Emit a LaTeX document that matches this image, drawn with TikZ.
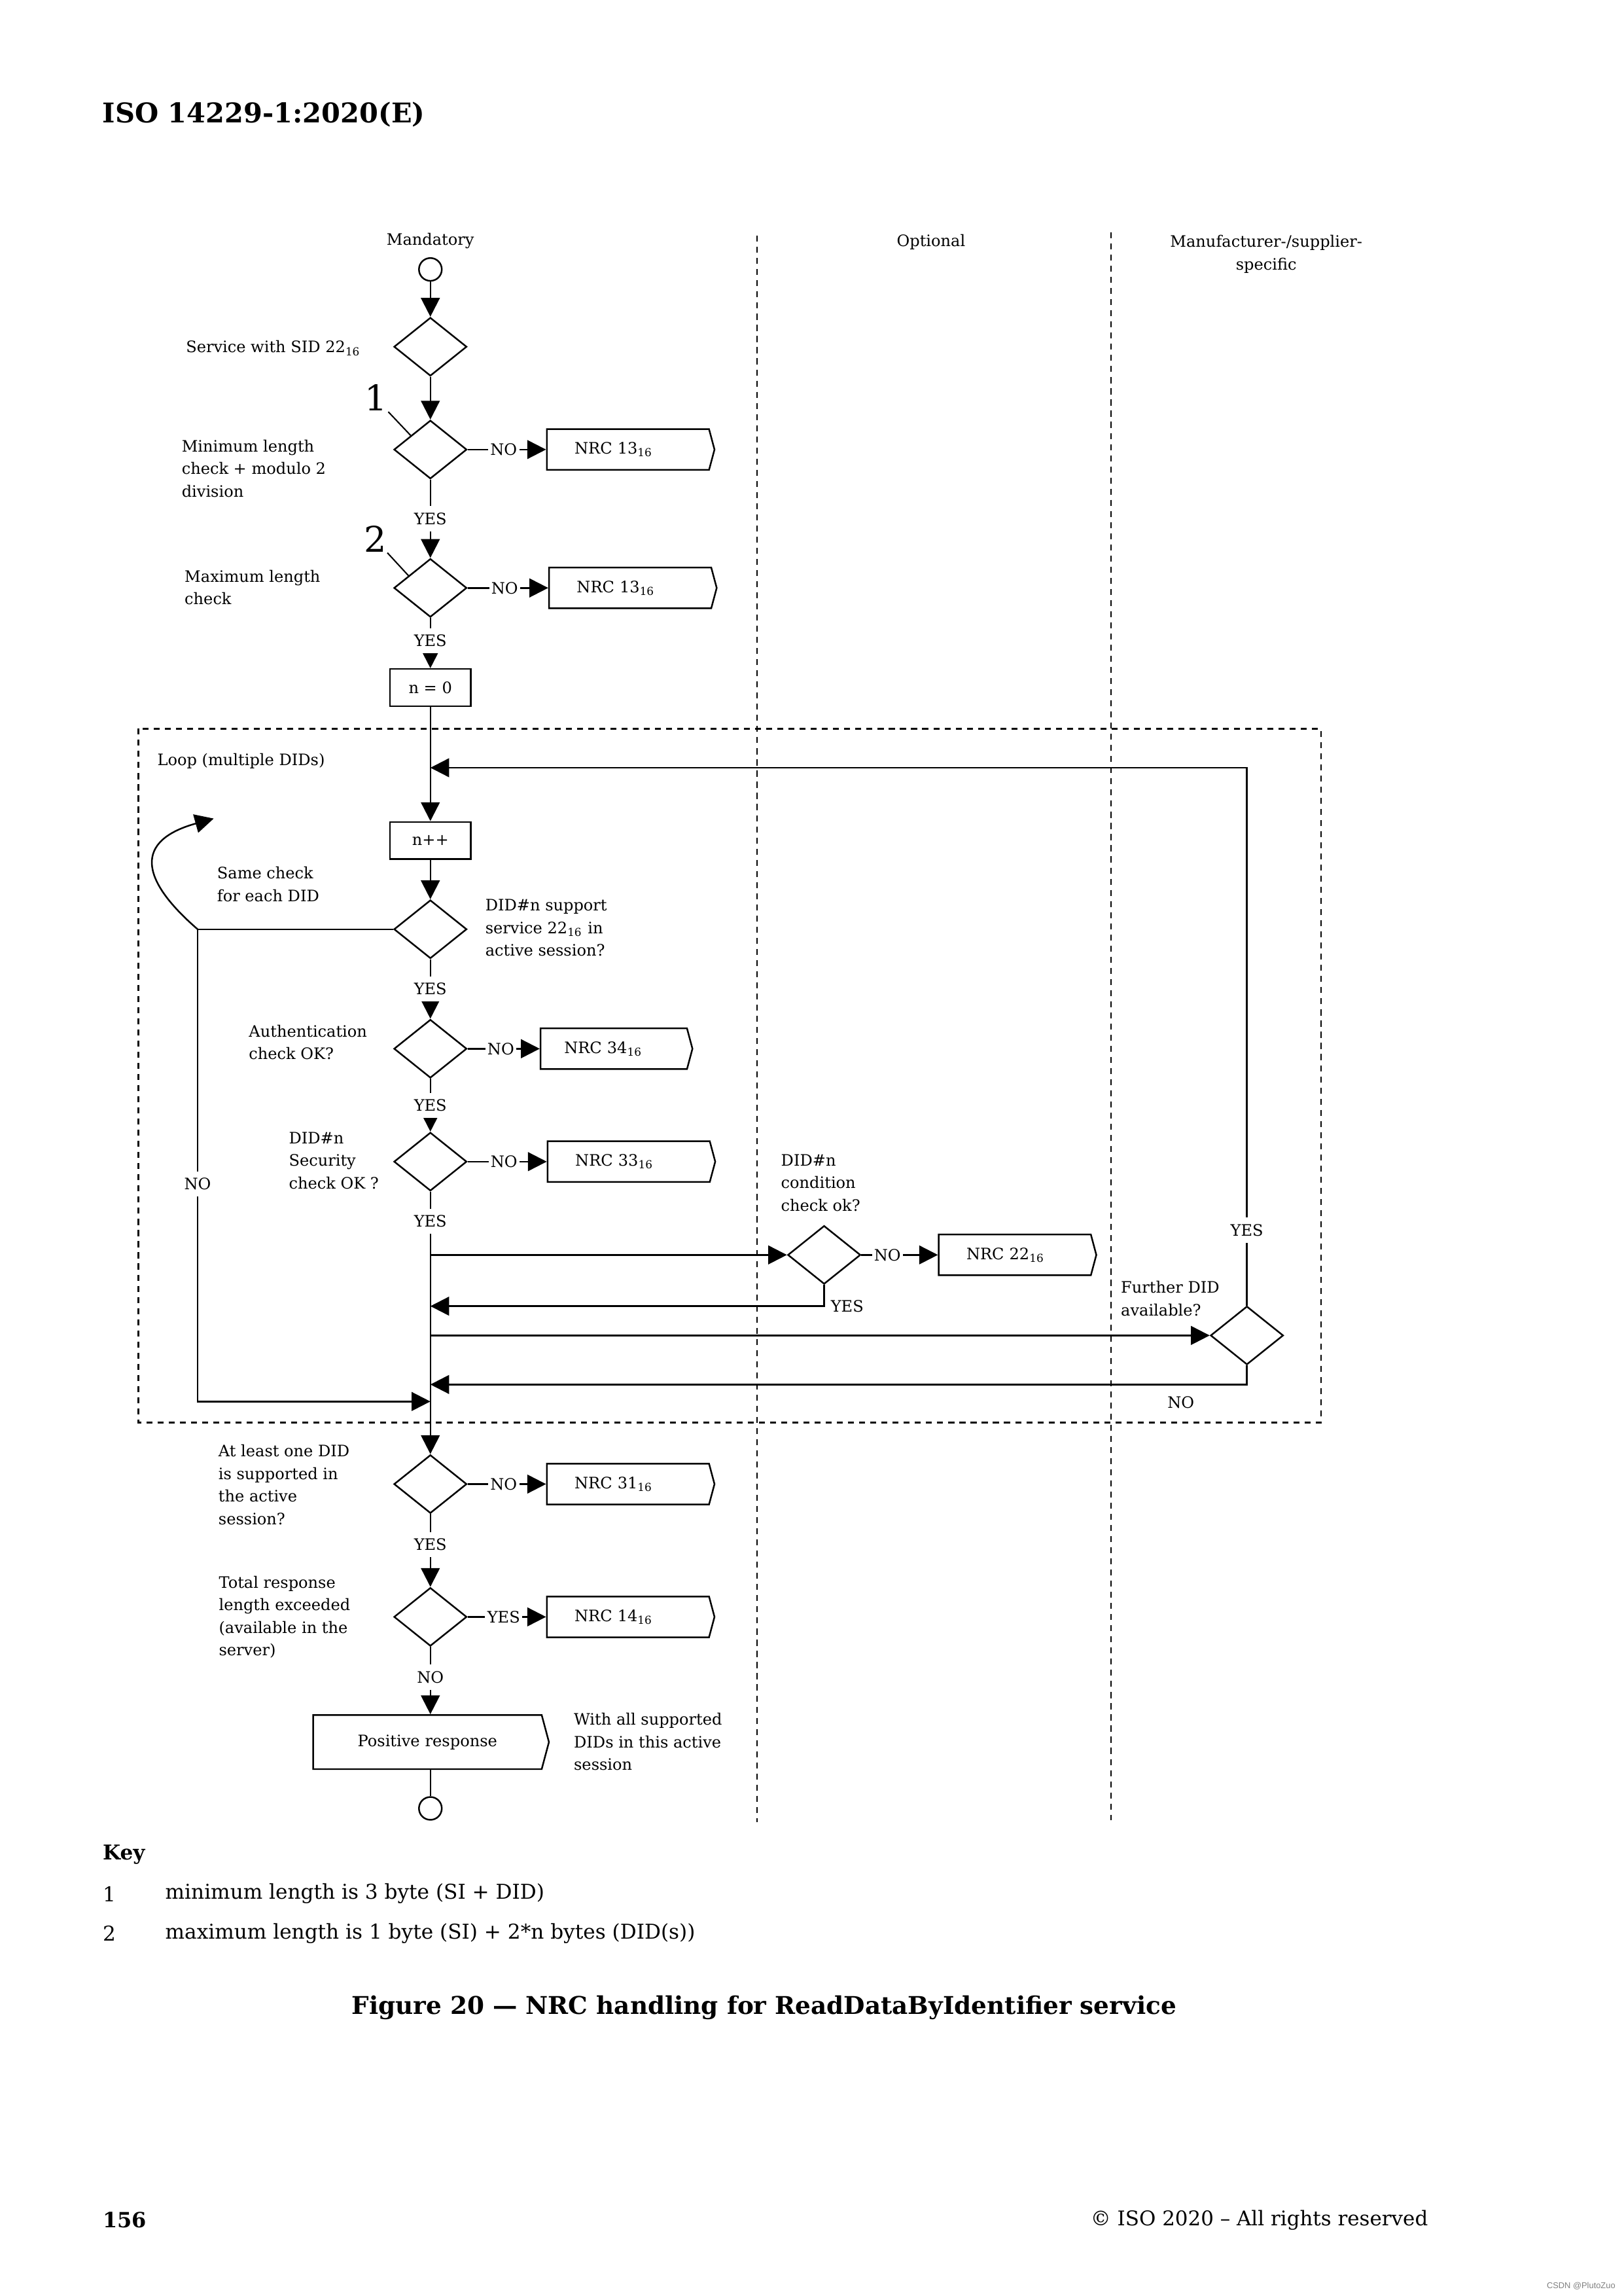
\documentclass[tikz,border=0pt]{standalone}
\usepackage{fontspec}
\setmainfont{DejaVu Serif}
\newfontfamily\wmfont{Liberation Sans}
\usetikzlibrary{arrows.meta,shapes.geometric,shapes.symbols,calc}

\newcommand{\fs}{\fontsize{5.8}{8.3}\selectfont}
\newcommand{\hx}[1]{#1\textsubscript{16}}

\begin{document}
\begin{tikzpicture}[x=0.18936mm,y=-0.18936mm,line width=0.6pt,
  arr/.style={-{Triangle[length=6.9pt,width=6.9pt]}},
  txt/.style={font=\fs,inner sep=0pt,align=left},
  lbl/.style={font=\fs,fill=white,inner xsep=0.8pt,inner ysep=2.4pt},
  dec/.style={draw,diamond,minimum width=26.8pt,minimum height=21.5pt,inner sep=0pt},
  term/.style={draw,circle,minimum size=8.4pt,inner sep=0pt},
  box/.style={draw,rectangle,minimum width=29.8pt,minimum height=13.7pt,inner sep=0pt,font=\fs},
  nrc/.style={draw,signal,signal to=east,signal from=nowhere,signal pointer angle=150,
    minimum height=15pt,text width=#1,inner xsep=10.2pt,inner ysep=0pt,align=left,font=\fs},
  nrc/.default=39.3pt,
  lane/.style={dash pattern=on 2.2pt off 1.9pt,line width=0.5pt}]
  \useasboundingbox (0,0) rectangle (1109,1568);

  % page head
  \node[anchor=base west,inner sep=0pt,font=\fontsize{10}{12}\selectfont\bfseries] (head) at (69.6,83.7) {ISO 14229-1:2020(E)};

  % lanes
  \node[txt] (laneA) at (294,164.6) {Mandatory};
  \node[txt] (laneB) at (636,165.4) {Optional};
  \node[txt,align=center] (laneC) at (865,173.5) {Manufacturer-/supplier-\\specific};
  \draw[lane] (517.1,161) -- (517.1,1244.5);
  \draw[lane] (759,158.7) -- (759,1243);
  \draw[lane,line width=0.6pt] (94.5,497.6) rectangle (902.4,971.6);
  \node[txt,anchor=west] (loop) at (107,519.6) {Loop (multiple DIDs)};

  % mandatory column
  \node[term] (start) at (294,184) {};
  \node[dec] (d1) at (294,236.8) {};
  \node[dec] (d2) at (294,307) {};
  \node[dec] (d3) at (294,401.5) {};
  \node[box] (n0) at (294,469.6) {n = 0};
  \node[box] (ninc) at (294,574) {n++};
  \node[dec] (d4) at (294,634.6) {};
  \node[dec] (d5) at (294,716.2) {};
  \node[dec] (d6) at (294,793.3) {};
  \node[dec] (d7) at (563,857) {};
  \node[dec] (d8) at (851.8,912) {};
  \node[dec] (d9) at (294,1013.5) {};
  \node[dec] (d10) at (294,1104.2) {};
  \node[draw,signal,signal to=east,signal from=nowhere,signal pointer angle=150,
    text width=74.1pt,inner xsep=5pt,inner ysep=0pt,minimum height=19.9pt,align=center,font=\fs]
    (pos) at (292,1189.7) {Positive response};
  \node[term] (stop) at (294,1235) {};

  % negative responses
  \node[nrc,anchor=west] (nrc1) at (373,307) {NRC \hx{13}};
  \node[nrc,anchor=west] (nrc2) at (374.5,401.5) {NRC \hx{13}};
  \node[nrc=36.5pt,anchor=west,inner xsep=8.7pt] (nrc34) at (368.7,716.2) {NRC \hx{34}};
  \node[nrc,anchor=west] (nrc33) at (373.5,793.3) {NRC \hx{33}};
  \node[nrc=35.6pt,anchor=west] (nrc22) at (640.7,857) {NRC \hx{22}};
  \node[nrc,anchor=west] (nrc31) at (373,1013.5) {NRC \hx{31}};
  \node[nrc,anchor=west] (nrc14) at (373,1104.2) {NRC \hx{14}};

  % texts
  \node[txt,anchor=west] (tSid) at (126.5,237.8) {Service with SID \hx{22}};
  \node[txt,anchor=west] (tMin) at (123.6,319.9) {Minimum length\\check + modulo 2\\division};
  \node[txt,anchor=west] (tMax) at (125.6,401.2) {Maximum length\\check};
  \node[txt,anchor=west] (tSame) at (147.8,603.8) {Same check\\for each DID};
  \node[txt,anchor=west] (tSup) at (331,633.7) {DID\#n support\\service \hx{22} in\\active session?};
  \node[txt,anchor=west] (tAuth) at (169.5,711.8) {Authentication\\check OK?};
  \node[txt,anchor=west] (tSec) at (196.8,792.5) {DID\#n\\Security\\check OK ?};
  \node[txt,anchor=west] (tCond) at (533,807.7) {DID\#n\\condition\\check ok?};
  \node[txt,anchor=west] (tMore) at (765.2,886.8) {Further DID\\available?};
  \node[txt,anchor=west] (tOne) at (148.7,1013.9) {At least one DID\\is supported in\\the active\\session?};
  \node[txt,anchor=west] (tLen) at (149,1104.4) {Total response\\length exceeded\\(available in the\\server)};
  \node[txt,anchor=west] (tAll) at (391.5,1189.6) {With all supported\\DIDs in this active\\session};

  % key marks
  \node[inner sep=0pt,font=\fontsize{13}{14}\selectfont] (k1) at (257,271.7) {1};
  \node[inner sep=0pt,font=\fontsize{13}{14}\selectfont] (k2) at (256.4,368) {2};
  \draw[line width=0.5pt] (k1.south east) -- ($(d2.west)!0.47!(d2.north)$);
  \draw[line width=0.5pt] (k2.south east) -- ($(d3.west)!0.41!(d3.north)$);

  % main flow
  \draw[arr] (start) -- (d1);
  \draw[arr] (d1) -- (d2);
  \draw[arr] (d2) -- node[lbl]{YES} (d3);
  \draw[arr] (d3) -- node[lbl,pos=0.45]{YES} (n0);
  \draw[arr] (n0) -- (ninc);
  \draw[arr] (ninc) -- (d4);
  \draw[arr] (d4) -- node[lbl]{YES} (d5);
  \draw[arr] (d5) -- node[lbl]{YES} (d6);
  \draw[arr] (d6) -- node[lbl,pos=0.112]{YES} (d9);
  \draw[arr] (d9) -- node[lbl,pos=0.42]{YES} (d10);
  \draw[arr] (d10.south) -- node[lbl,pos=0.45]{NO} (d10.south |- pos.north);
  \draw (d10.south |- pos.south) -- (stop);

  \draw[arr] (d2.east) -- node[lbl,pos=0.46]{NO} (nrc1.west);
  \draw[arr] (d3.east) -- node[lbl,pos=0.46]{NO} (nrc2.west);
  \draw[arr] (d5.east) -- node[lbl,pos=0.46]{NO} (nrc34.west);
  \draw[arr] (d6.east) -- node[lbl,pos=0.46]{NO} (nrc33.west);
  \draw[arr] (d9.east) -- node[lbl,pos=0.46]{NO} (nrc31.west);
  \draw[arr] (d10.east) -- node[lbl,pos=0.46]{YES} (nrc14.west);

  % loop over DIDs
  \coordinate (rtn) at (563,892);
  \coordinate (back) at (851.8,524.3);
  \coordinate (none) at (851.8,945.5);
  \coordinate (skip) at (135,634.6);
  \coordinate (skipb) at (135,957.1);
  \coordinate (again) at (146,559);
  \draw[arr] (d6 |- d7) -- (d7.west);
  \draw[arr] (d7.east) -- node[lbl,pos=0.34]{NO} (nrc22.west);
  \draw[arr] (d7.south) -- (rtn) -- (rtn -| d6);
  \node[txt,anchor=west] (yesC) at (567,892) {YES};
  \draw[arr] (d6 |- d8) -- (d8.west);
  \draw[arr] (d8.north) -- node[lbl,pos=0.14]{YES} (back) -- (back -| d6);
  \draw[arr] (d8.south) -- (none) -- (none -| d6);
  \node[txt] (noC) at (806.7,957.8) {NO};
  \draw[arr] (d4.west) -- (skip) -- node[lbl,pos=0.539]{NO} (skipb) -- (skipb -| d6);
  \draw[arr] (skip) .. controls (95,600) and (92,574) .. (again);

  % key and caption
  \node[anchor=west,inner sep=0pt,font=\fontsize{7.5}{9}\selectfont\bfseries] (key) at (69.7,1266.5) {Key};
  \node[anchor=west,inner sep=0pt,font=\fontsize{7.5}{9}\selectfont] (key1n) at (69.7,1293.3) {1};
  \node[anchor=west,inner sep=0pt,font=\fontsize{7.5}{9}\selectfont] (key1) at (112.4,1293.3) {minimum length is 3 byte (SI + DID)};
  \node[anchor=west,inner sep=0pt,font=\fontsize{7.5}{9}\selectfont] (key2n) at (69.7,1320.2) {2};
  \node[anchor=west,inner sep=0pt,font=\fontsize{7.5}{9}\selectfont] (key2) at (112.4,1320.2) {maximum length is 1 byte (SI) + 2*n bytes (DID(s))};
  \node[inner sep=0pt,font=\fontsize{9}{11}\selectfont\bfseries] (cap) at (522,1371) {Figure 20 — NRC handling for ReadDataByIdentifier service};

  % page foot
  \node[anchor=west,inner sep=0pt,font=\fontsize{7.7}{9}\selectfont\bfseries] (page) at (69.7,1516) {156};
  \node[anchor=east,inner sep=0pt,font=\fontsize{7.45}{9}\selectfont] (copy) at (976,1516) {© ISO 2020 – All rights reserved};
  \node[anchor=east,inner sep=0pt,font=\wmfont\fontsize{3.1}{4}\selectfont,text=gray] (wm) at (1104,1561) {CSDN @PlutoZuo};
\end{tikzpicture}
\end{document}
